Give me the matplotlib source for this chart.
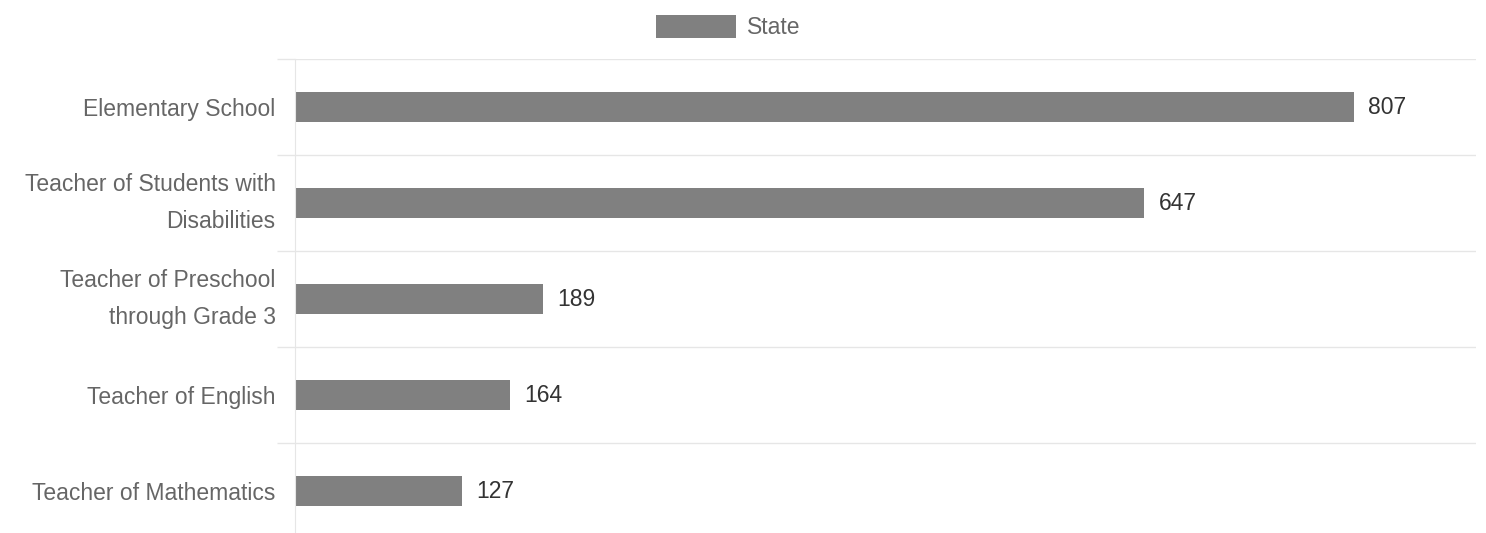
import matplotlib
matplotlib.use("Agg")
from matplotlib import pyplot as plt
from matplotlib.patches import Patch
import numpy as np

categories = [
    "Elementary School",
    "Teacher of Students with\nDisabilities",
    "Teacher of Preschool\nthrough Grade 3",
    "Teacher of English",
    "Teacher of Mathematics",
]
state_values = [807, 647, 189, 164, 127]

plt.rcParams["font.family"] = ["Liberation Sans", "DejaVu Sans"]

fig = plt.figure(figsize=(14.86, 5.33), dpi=100)
ax = fig.add_axes([295 / 1486, -6 / 533, 1181 / 1486, 480 / 533])

y = np.arange(len(categories))
ax.barh(y, state_values, height=0.31, color="#808080")

ax.set_xlim(0, 900)
ax.set_ylim(len(categories) - 0.5, -0.5)

# value labels to the right of each bar
for yi, v in zip(y, state_values):
    ax.text(v + 11, yi, str(v), va="center", ha="left", fontsize=16.5, color="#333333")

# category labels
ax.set_yticks(y)
ax.set_yticklabels(categories, fontsize=16.5, color="#666666", linespacing=1.8)
ax.tick_params(axis="y", which="major", length=0, pad=14)
for lbl in ax.get_yticklabels():
    if "\n" in lbl.get_text():
        lbl.set_va("center")

# grid lines between categories
ax.set_yticks(np.arange(-0.5, len(categories), 1), minor=True)
ax.tick_params(axis="y", which="minor", length=13, color="#e6e6e6", width=1)
ax.grid(True, axis="y", which="minor", color="#e6e6e6", linewidth=1)
ax.set_xticks([])

for side in ["top", "right", "bottom"]:
    ax.spines[side].set_visible(False)
ax.spines["left"].set_color("#e6e6e6")

fig.legend(
    handles=[Patch(facecolor="#808080", label="State")],
    loc="upper center",
    bbox_to_anchor=(0.49, 1.0),
    frameon=False,
    fontsize=16.5,
    handlelength=3.5,
    handleheight=1.2,
    handletextpad=0.5,
    borderaxespad=0.25,
    labelcolor="#666666",
)

fig.savefig("out.png", dpi=100)
